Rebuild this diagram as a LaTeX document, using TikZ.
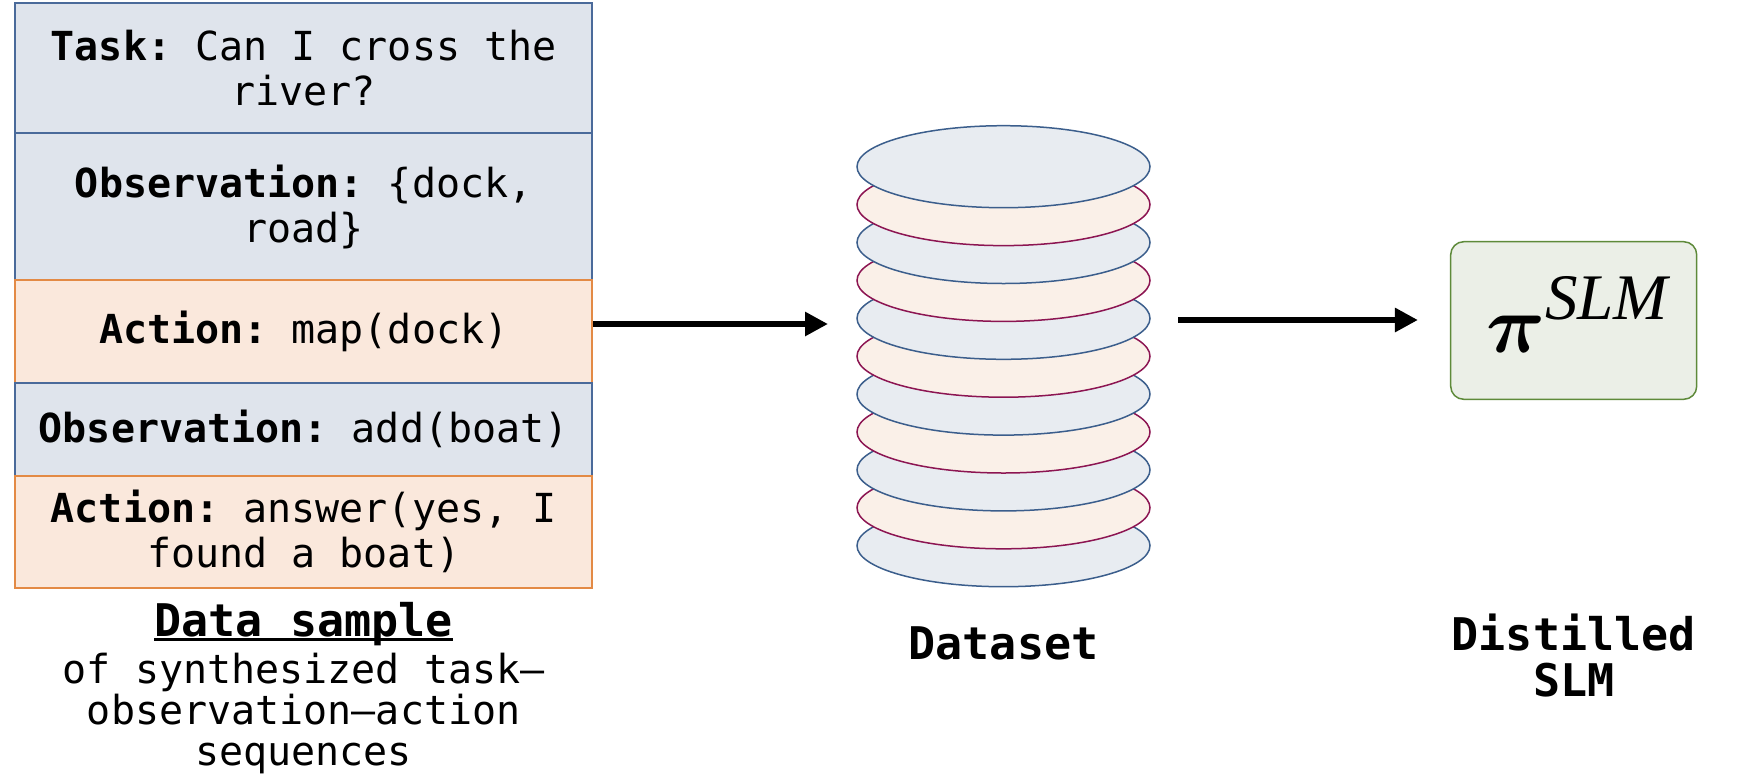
\documentclass[tikz,border=0pt]{standalone}
\usepackage{graphicx}
\usepackage{amsmath}
\usepackage{fontspec}
\setmonofont{DejaVu Sans Mono}
\newfontfamily\slmfont{Liberation Serif}
\usetikzlibrary{arrows.meta,shapes.geometric}
\definecolor{bluefill}{HTML}{DFE4EC}
\definecolor{bluedraw}{HTML}{4A6A9A}
\definecolor{orfill}{HTML}{FAE8DC}
\definecolor{ordraw}{HTML}{E38A45}
\definecolor{dsblue}{HTML}{E8ECF1}
\definecolor{dsbluedraw}{HTML}{3B5E8C}
\definecolor{dsor}{HTML}{FAF0E8}
\definecolor{dsordraw}{HTML}{8C1552}
\definecolor{slmfill}{HTML}{EBEFE7}
\definecolor{slmdraw}{HTML}{5E8A3A}
\tikzset{
  row/.style={rectangle, minimum width=576.7pt, inner sep=0pt, line width=2pt,
    align=center, font=\ttfamily\fontsize{40}{45}\selectfont},
  bluerow/.style={row, fill=bluefill, draw=bluedraw},
  orrow/.style={row, fill=orfill, draw=ordraw},
  disk/.style={ellipse, minimum width=293pt, minimum height=82pt, inner sep=0pt, line width=1.5pt},
  bluedisk/.style={disk, fill=dsblue, draw=dsbluedraw},
  ordisk/.style={disk, fill=dsor, draw=dsordraw},
  arr/.style={line width=6pt, -{Triangle[length=23pt,width=23pt]}},
  lbl/.style={inner sep=0pt, align=center},
}
\begin{document}
\begin{tikzpicture}[x=1pt,y=-1pt]
\useasboundingbox (0,0) rectangle (1754,777);
% data sample rows
\node[bluerow, minimum height=129.6pt] (r1) at (303.7,68.2) {\textbf{Task:} Can I cross the\\river?};
\node[bluerow, minimum height=147pt] (r2) at (303.7,206.5) {\textbf{Observation:} \{dock,\\road\}};
\node[orrow, minimum height=103pt] (r3) at (303.7,331.5) {\textbf{Action:} map(dock)};
\node[bluerow, minimum height=92.7pt] (r4) at (303.7,429.3) {\textbf{Observation:} add(boat)};
\node[orrow, minimum height=112pt] (r5) at (303.7,531.7) {\textbf{Action:} answer(yes, I\\found a boat)};
% caption
\node[lbl, anchor=base, font=\ttfamily\bfseries\fontsize{45}{45}\selectfont] (dsl) at (303.7,636) {Data sample};
\draw[line width=3pt] ([yshift=-3.5pt]dsl.base west) -- ([yshift=-3.5pt]dsl.base east);
\node[lbl, anchor=base, font=\ttfamily\fontsize{40}{41}\selectfont] (dsd) at (303.7,765) {of synthesized task–\\observation–action\\sequences};
% dataset cylinder
\foreach \i in {10,...,0}{
  \pgfmathsetmacro{\yy}{166.7+37.9*\i}
  \ifodd\i
    \node[ordisk] (e\i) at (1003.5,\yy) {};
  \else
    \node[bluedisk] (e\i) at (1003.5,\yy) {};
  \fi
}
\node[lbl, anchor=base, font=\ttfamily\bfseries\fontsize{45}{45}\selectfont] (dst) at (1003.5,659) {Dataset};
% SLM box
\node[rectangle, rounded corners=13pt, fill=slmfill, draw=slmdraw, line width=1.5pt,
  minimum width=246pt, minimum height=157.6pt, inner sep=0pt] (slm) at (1573.7,320.5) {};
\node[lbl, anchor=base west, font=\slmfont\itshape] (pi) at (1486,352)
  {\scalebox{8.2}{$\boldsymbol{\pi}$}\raisebox{33pt}{\fontsize{65}{65}\selectfont SLM}};
\node[lbl, anchor=base, font=\ttfamily\bfseries\fontsize{45}{46.7}\selectfont] (dsm) at (1573.7,696.7) {Distilled\\SLM};
% arrows
\coordinate (a1e) at (828,324);
\coordinate (a2s) at (1178,320);
\draw[arr] (r3.east |- a1e) -- (a1e);
\draw[arr] (a2s) -- ([xshift=-32pt]slm.west |- a2s);
\end{tikzpicture}
\end{document}
